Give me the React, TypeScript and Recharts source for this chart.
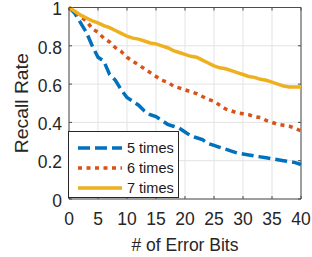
import React from 'react';
import { LineChart, Line, XAxis, YAxis, CartesianGrid, ReferenceLine } from 'recharts';

const errorBits = [0,1,2,3,4,5,6,7,8,9,10,11,12,13,14,15,16,17,18,19,20,21,22,23,24,25,26,27,28,29,30,31,32,33,34,35,36,37,38,39,40];
const times5 = [1,0.97,0.92,0.87,0.8,0.74,0.72,0.65,0.62,0.57,0.53,0.51,0.49,0.46,0.44,0.43,0.41,0.39,0.38,0.37,0.35,0.33,0.32,0.31,0.29,0.28,0.27,0.26,0.25,0.24,0.235,0.23,0.225,0.22,0.215,0.21,0.205,0.2,0.195,0.19,0.18];
const times6 = [1,0.98,0.95,0.93,0.89,0.87,0.84,0.82,0.79,0.77,0.74,0.72,0.7,0.68,0.66,0.64,0.62,0.61,0.59,0.58,0.57,0.56,0.55,0.535,0.52,0.51,0.49,0.47,0.46,0.45,0.445,0.44,0.43,0.425,0.41,0.4,0.39,0.385,0.38,0.37,0.355];
const times7 = [1,0.98,0.96,0.945,0.93,0.92,0.905,0.895,0.88,0.865,0.85,0.84,0.835,0.825,0.815,0.81,0.8,0.79,0.775,0.765,0.755,0.745,0.74,0.725,0.71,0.695,0.685,0.68,0.67,0.66,0.65,0.64,0.635,0.625,0.62,0.61,0.6,0.59,0.585,0.585,0.585];
const xTicks = [0,5,10,15,20,25,30,35,40];
const yTicks = [0,0.2,0.4,0.6,0.8,1];
const seriesNames = ['5 times', '6 times', '7 times'];

const data = errorBits.map((x, i) => ({ x, s5: times5[i], s6: times6[i], s7: times7[i] }));

const FONT = '"Liberation Sans", Arial, Helvetica, sans-serif';
const AXIS = '#4d4d4d';
const TXT = '#262626';
const W = 312, H = 257;
const M_TOP = 7.5, M_RIGHT = 11, Y_W = 69, X_H = 58;
const PW = W - Y_W - M_RIGHT;
const PH = H - M_TOP - X_H;
const Y_MARGIN = 7;
const X_MARGIN = 14;
const TL = 3;

const series = [
  { key: 's5', name: seriesNames[0], color: '#0072BD', dash: '12 5' },
  { key: 's6', name: seriesNames[1], color: '#D95319', dash: '4 4.5' },
  { key: 's7', name: seriesNames[2], color: '#EDB120', dash: undefined as string | undefined },
];

const YTick = (props: any) => {
  const { x, y, payload } = props;
  const ax = x + Y_MARGIN;
  return (
    <g>
      <line x1={ax} x2={ax + TL} y1={y} y2={y} stroke={AXIS} strokeWidth={1} />
      <line x1={ax + PW - TL} x2={ax + PW} y1={y} y2={y} stroke={AXIS} strokeWidth={1} />
      <text x={x} y={y} dy="0.44em" textAnchor="end" fontSize={17.5} fill={TXT} fontFamily={FONT}>{payload.value}</text>
    </g>
  );
};

const XTick = (props: any) => {
  const { x, y, payload } = props;
  const ay = y - X_MARGIN;
  return (
    <g>
      <line x1={x} x2={x} y1={ay} y2={ay - TL} stroke={AXIS} strokeWidth={1} />
      <line x1={x} x2={x} y1={ay - PH} y2={ay - PH + TL} stroke={AXIS} strokeWidth={1} />
      <text x={x} y={y} dy="0.71em" textAnchor="middle" fontSize={17.5} fill={TXT} fontFamily={FONT}>{payload.value}</text>
    </g>
  );
};

const YLabel = (props: any) => {
  const vb = props.viewBox || {};
  const cx = 28;
  const cy = (vb.y ?? M_TOP) + (vb.height ?? PH) / 2;
  return (
    <text x={cx} y={cy} transform={`rotate(-90 ${cx} ${cy})`} textAnchor="middle" fontSize={18} textLength={100} lengthAdjust="spacingAndGlyphs" fill={TXT} fontFamily={FONT}>Recall Rate</text>
  );
};

const XLabel = (props: any) => {
  const vb = props.viewBox || {};
  const cx = (vb.x ?? Y_W) + (vb.width ?? PW) / 2;
  return (
    <text x={cx} y={251} textAnchor="middle" fontSize={17.5} fill={TXT} fontFamily={FONT}># of Error Bits</text>
  );
};

const LegendBox = () => (
  <div style={{ position: 'absolute', left: 68, top: 131, width: 111, height: 67, boxSizing: 'border-box', border: '1px solid #262626', background: '#fff', fontFamily: FONT }}>
    {series.map((s, i) => (
      <div key={s.key} style={{ position: 'absolute', left: 0, top: 6 + i * 20, height: 20, width: 109 }}>
        <svg width={50} height={20} style={{ position: 'absolute', left: 9, top: 0 }}>
          <line x1={0} x2={44} y1={10} y2={10} stroke={s.color} strokeWidth={3.5} strokeDasharray={s.dash} />
        </svg>
        <span style={{ position: 'absolute', left: 58, top: 1, fontSize: 14.5, lineHeight: '18px', color: '#1a1a1a', whiteSpace: 'nowrap' }}>{s.name}</span>
      </div>
    ))}
  </div>
);

export default function App() {
  return (
    <div style={{ position: 'absolute', left: 0, top: 0, width: W, height: H, background: '#fff' }}>
      <LineChart width={W} height={H} data={data} margin={{ top: M_TOP, right: M_RIGHT, bottom: 0, left: 0 }}>
        <CartesianGrid stroke="#e3e3e3" strokeWidth={1} />
        <XAxis
          dataKey="x"
          type="number"
          domain={[0, 40]}
          ticks={xTicks}
          height={X_H}
          tickSize={0}
          tickMargin={X_MARGIN}
          tickLine={false}
          axisLine={{ stroke: AXIS, strokeWidth: 1 }}
          tick={<XTick />}
          interval={0}
          label={<XLabel />}
        />
        <YAxis
          type="number"
          domain={[0, 1]}
          ticks={yTicks}
          width={Y_W}
          tickSize={0}
          tickMargin={Y_MARGIN}
          tickLine={false}
          axisLine={{ stroke: AXIS, strokeWidth: 1 }}
          tick={<YTick />}
          interval={0}
          label={<YLabel />}
        />
        <ReferenceLine y={1} stroke={AXIS} strokeWidth={1} />
        <ReferenceLine x={40} stroke={AXIS} strokeWidth={1} />
        {series.map((s) => (
          <Line
            key={s.key}
            dataKey={s.key}
            name={s.name}
            type="linear"
            stroke={s.color}
            strokeWidth={3.5}
            strokeDasharray={s.dash}
            dot={false}
            activeDot={false}
            isAnimationActive={false}
          />
        ))}
      </LineChart>
      <LegendBox />
    </div>
  );
}
